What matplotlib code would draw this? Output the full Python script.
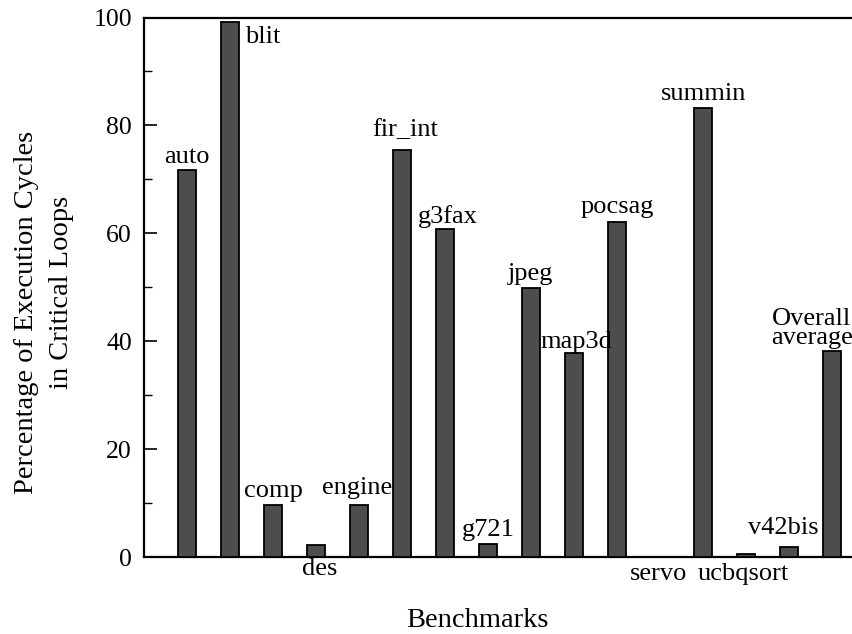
import matplotlib
matplotlib.use("Agg")
import matplotlib.pyplot as plt
from matplotlib.ticker import MultipleLocator

# Benchmark data
benchmarks = ["auto", "blit", "comp", "des", "engine", "fir_int", "g3fax", "g721",
              "jpeg", "map3d", "pocsag", "servo", "summin", "ucbqsort", "v42bis",
              "Overall\naverage"]
percent_cycles = [71.7, 99.1, 9.7, 2.3, 9.7, 75.4, 60.8, 2.5,
                  49.9, 37.9, 62.2, 0.0, 83.3, 0.55, 2.0, 38.3]

# label placement per bar: (dx px, dy px, horizontal alignment, anchored at base)
label_style = {
    "auto": (0, 7, "center", False),
    "blit": (15, -21, "left", False),
    "comp": (0, 8, "center", False),
    "des": (3, -17.7, "center", True),
    "engine": (-2, 10.5, "center", False),
    "fir_int": (3, 14, "center", False),
    "g3fax": (2, 5.7, "center", False),
    "g721": (-0.5, 8, "center", False),
    "jpeg": (-1, 7.7, "center", False),
    "map3d": (2.5, 4.7, "center", False),
    "pocsag": (0, 8.4, "center", False),
    "servo": (-1.5, -22.7, "center", True),
    "summin": (0.5, 7.7, "center", False),
    "ucbqsort": (-3.5, -22.7, "center", True),
    "v42bis": (-6.5, 13, "center", False),
    "Overall\naverage": (-20.5, 7, "center", False),
}

plt.rcParams["font.family"] = ["Liberation Serif", "DejaVu Serif"]

W, H = 853, 634
fig = plt.figure(figsize=(W / 100, H / 100), dpi=100)
ax_left, ax_right, ax_top, ax_bottom = 144.3, 853.0, 17.5, 557.3
ax = fig.add_axes([ax_left / W, 1 - ax_bottom / H,
                   (ax_right - ax_left) / W, (ax_bottom - ax_top) / H])

x = list(range(len(benchmarks)))
ax.bar(x, percent_cycles, width=0.42, color="#4d4d4d", edgecolor="black",
       linewidth=1.3, zorder=3)

ax.set_xlim(-1.0, 15.48)
ax.set_ylim(0, 100)
ax.yaxis.set_major_locator(MultipleLocator(20))
ax.yaxis.set_minor_locator(MultipleLocator(10))
ax.tick_params(axis="y", which="major", direction="in", length=9, width=1.2,
               labelsize=18.5, pad=9)
ax.tick_params(axis="y", which="minor", direction="in", length=5.5, width=1.0)
ax.tick_params(axis="y", right=False, which="both")
ax.set_xticks([])
for side in ["left", "top", "bottom"]:
    ax.spines[side].set_linewidth(1.6)
ax.spines["right"].set_linewidth(1.0)
ax.spines["right"].set_color("#bbbbbb")

for i, (name, val) in enumerate(zip(benchmarks, percent_cycles)):
    dx, dy, ha, at_base = label_style[name]
    ax.annotate(name, xy=(i, 0 if at_base else val), xytext=(dx, dy),
                textcoords="offset pixels", ha=ha, va="baseline",
                multialignment="center", linespacing=0.82,
                fontsize=19, annotation_clip=False)

# axis titles
fig.text(477 / W, 1 - 626.7 / H, "Benchmarks", ha="center", va="baseline",
         fontsize=20.5)
fig.text(33.3 / W, 1 - 312 / H, "Percentage of Execution Cycles",
         rotation=90, rotation_mode="anchor", ha="center", va="baseline",
         fontsize=20.5)
fig.text(68.3 / W, 1 - 292 / H, "in Critical Loops",
         rotation=90, rotation_mode="anchor", ha="center", va="baseline",
         fontsize=20.5)

fig.savefig("out.png", dpi=100)
